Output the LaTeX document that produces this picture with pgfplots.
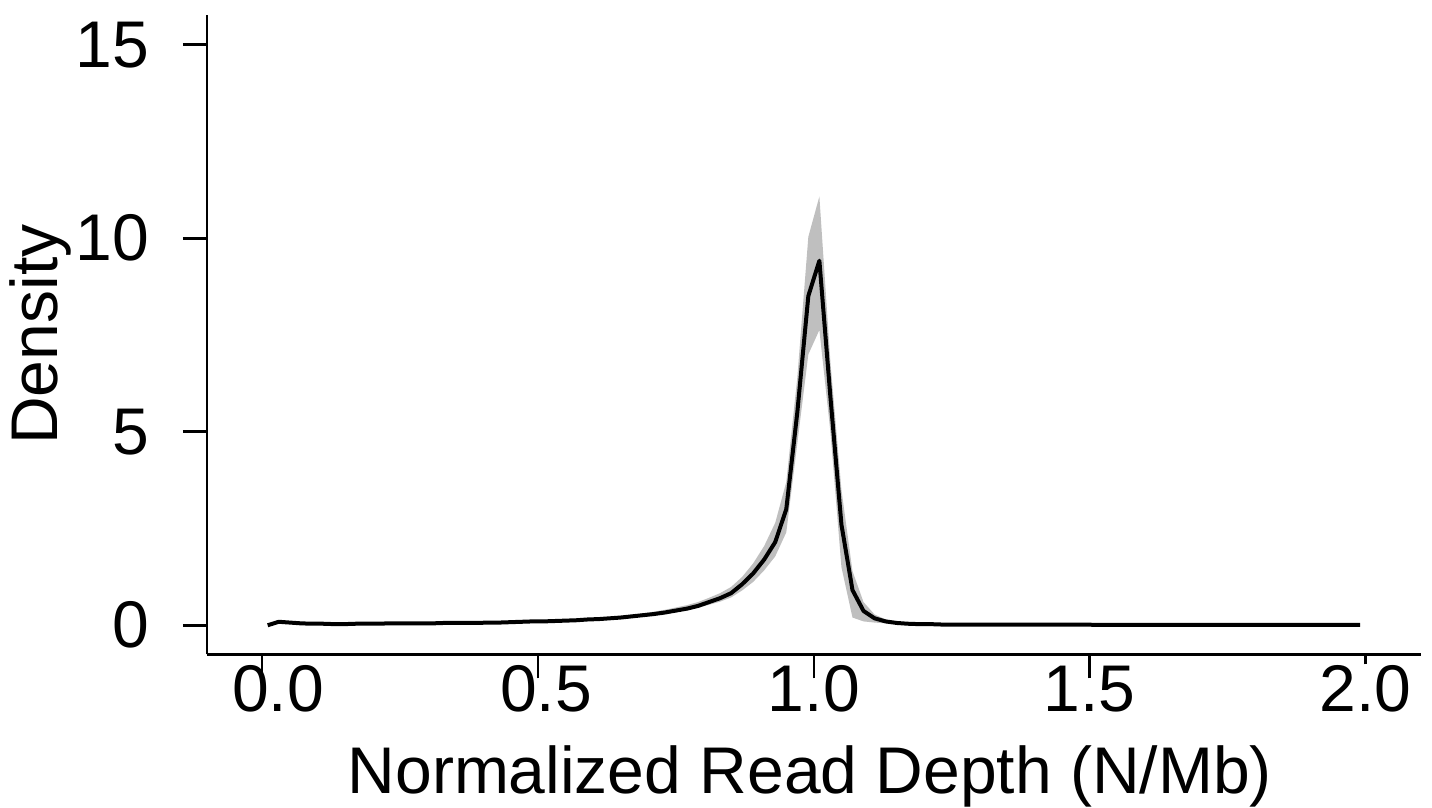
\documentclass[border=0pt]{standalone}
\usepackage{fontspec}
\setmainfont{Liberation Sans}
\usepackage{pgfplots}
\usepackage{pgfplotstable}
\pgfplotsset{compat=1.18}
\usepgfplotslibrary{fillbetween}
\pgfplotstableread{
x y lo hi
0.01 0.00 0.00 0.01
0.03 0.09 0.07 0.11
0.05 0.07 0.06 0.08
0.07 0.05 0.04 0.06
0.09 0.04 0.03 0.05
0.11 0.04 0.03 0.05
0.13 0.03 0.02 0.04
0.15 0.03 0.02 0.04
0.17 0.04 0.03 0.05
0.19 0.04 0.03 0.05
0.21 0.04 0.03 0.05
0.23 0.05 0.04 0.06
0.25 0.05 0.04 0.06
0.27 0.05 0.04 0.06
0.29 0.05 0.04 0.06
0.31 0.05 0.04 0.06
0.33 0.06 0.05 0.07
0.35 0.06 0.05 0.07
0.37 0.06 0.05 0.07
0.39 0.06 0.05 0.07
0.41 0.07 0.06 0.08
0.43 0.07 0.06 0.08
0.45 0.08 0.07 0.09
0.47 0.09 0.08 0.10
0.49 0.10 0.09 0.11
0.51 0.10 0.09 0.11
0.53 0.11 0.10 0.12
0.55 0.12 0.11 0.14
0.57 0.13 0.12 0.15
0.59 0.15 0.13 0.17
0.61 0.16 0.14 0.19
0.63 0.18 0.16 0.21
0.65 0.20 0.18 0.24
0.67 0.23 0.20 0.27
0.69 0.26 0.23 0.31
0.71 0.29 0.26 0.35
0.73 0.33 0.30 0.40
0.75 0.38 0.34 0.46
0.77 0.43 0.39 0.52
0.79 0.50 0.45 0.60
0.81 0.60 0.53 0.71
0.83 0.70 0.61 0.83
0.85 0.83 0.72 0.99
0.87 1.06 0.90 1.25
0.89 1.34 1.12 1.60
0.91 1.70 1.42 2.05
0.93 2.15 1.78 2.65
0.95 3.00 2.40 3.70
0.97 5.50 4.70 6.40
0.99 8.51 7.00 10.04
1.01 9.42 7.63 11.08
1.03 5.90 5.00 6.80
1.05 2.60 1.50 3.50
1.07 0.91 0.20 1.40
1.09 0.37 0.10 0.60
1.11 0.18 0.07 0.28
1.13 0.10 0.05 0.15
1.15 0.06 0.04 0.09
1.17 0.04 0.03 0.06
1.19 0.03 0.02 0.04
1.21 0.03 0.02 0.04
1.23 0.02 0.02 0.03
1.25 0.02 0.01 0.03
1.27 0.02 0.01 0.03
1.29 0.02 0.01 0.03
1.31 0.02 0.01 0.03
1.33 0.02 0.01 0.03
1.35 0.02 0.01 0.03
1.37 0.02 0.01 0.03
1.39 0.02 0.01 0.03
1.41 0.02 0.01 0.03
1.43 0.02 0.01 0.03
1.45 0.02 0.01 0.03
1.47 0.02 0.01 0.03
1.49 0.02 0.01 0.03
1.51 0.01 0.00 0.02
1.55 0.01 0.00 0.02
1.59 0.01 0.00 0.02
1.63 0.01 0.00 0.02
1.67 0.01 0.00 0.02
1.71 0.01 0.00 0.02
1.75 0.01 0.00 0.02
1.79 0.01 0.00 0.02
1.83 0.01 0.00 0.02
1.87 0.01 0.00 0.02
1.91 0.01 0.00 0.02
1.95 0.01 0.00 0.02
1.99 0.01 0.00 0.02
}\density
\begin{document}
\begin{tikzpicture}
\begin{axis}[
  name=ax,
  scale only axis,
  width=606.85pt, height=319.65pt,
  xmin=-0.1, xmax=2.1,
  ymin=-0.75, ymax=15.77,
  axis x line*=bottom, axis y line*=left,
  axis line style={line width=1.3pt, -},
  tick style={line width=1.3pt, black},
  tick align=outside,
  major tick length=12pt,
  xtick style={shorten <=7pt},
  xtick={0,0.5,1,1.5,2},
  xticklabels={\hspace*{16pt}0.0,\hspace*{8pt}0.5,1.0,1.5,2.0},
  ytick={0,5,10,15},
  font=\fontsize{33}{40}\selectfont,
  /pgf/number format/assume math mode=true,
  xticklabel style={anchor=north, inner sep=0pt, yshift=6.4pt},
  yticklabel style={anchor=east, inner sep=0pt, xshift=-16.8pt},
  xlabel={Normalized Read Depth (N/Mb)},
  ylabel={Density},
  xlabel style={at={(rel axis cs:0.5,0)}, anchor=base, yshift=-69.35pt, xshift=-2pt},
  ylabel style={at={(rel axis cs:0,0.5)}, anchor=center, yshift=83.3pt},
]
\addplot[name path=hi, draw=none, forget plot] table[x=x, y=hi] {\density};
\addplot[name path=lo, draw=none, forget plot] table[x=x, y=lo] {\density};
\addplot[fill=black!25, draw=none] fill between[of=hi and lo];
\addplot[black, line width=2pt, line join=round] table[x=x, y=y] {\density};
\end{axis}
\pgfresetboundingbox
\path[use as bounding box] ([xshift=-103.5pt,yshift=-76.35pt]ax.south west) rectangle ([xshift=5.65pt,yshift=7.5pt]ax.north east);
\end{tikzpicture}
\end{document}
